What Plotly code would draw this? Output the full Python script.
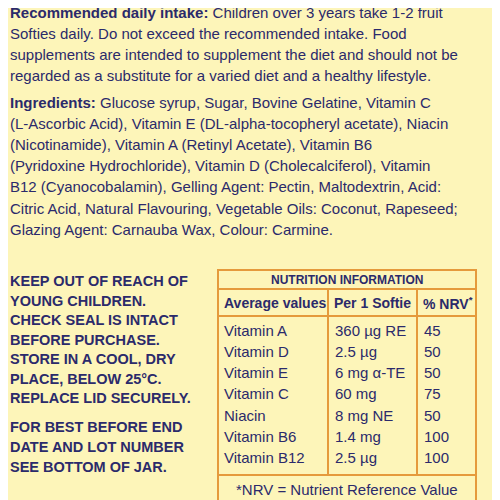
import plotly.graph_objects as go

BG = "#fdf5b9"
INK = "#2b2a6b"
ORANGE = "#e59a3c"
FONT = "Liberation Sans, Arial, sans-serif"

intake_lines = [
    "<b>Recommended daily intake:</b> Children over 3 years take 1-2 fruit",
    "Softies daily. Do not exceed the recommended intake. Food",
    "supplements are intended to supplement the diet and should not be",
    "regarded as a substitute for a varied diet and a healthy lifestyle.",
]
ingredient_lines = [
    "<b>Ingredients:</b> Glucose syrup, Sugar, Bovine Gelatine, Vitamin C",
    "(L-Ascorbic Acid), Vitamin E (DL-alpha-tocopheryl acetate), Niacin",
    "(Nicotinamide), Vitamin A (Retinyl Acetate), Vitamin B6",
    "(Pyridoxine Hydrochloride), Vitamin D (Cholecalciferol), Vitamin",
    "B12 (Cyanocobalamin), Gelling Agent: Pectin, Maltodextrin, Acid:",
    "Citric Acid, Natural Flavouring, Vegetable Oils: Coconut, Rapeseed;",
    "Glazing Agent: Carnauba Wax, Colour: Carmine.",
]
warning_lines = [
    "KEEP OUT OF REACH OF", "YOUNG CHILDREN.", "CHECK SEAL IS INTACT",
    "BEFORE PURCHASE.", "STORE IN A COOL, DRY", "PLACE, BELOW 25°C.",
    "REPLACE LID SECURELY.",
]
bestbefore_lines = ["FOR BEST BEFORE END", "DATE AND LOT NUMBER", "SEE BOTTOM OF JAR."]

col_headers = ["Average values", "Per 1 Softie", "% NRV<sup>*</sup>"]
nutrients = ["Vitamin A", "Vitamin D", "Vitamin E", "Vitamin C", "Niacin", "Vitamin B6", "Vitamin B12"]
amounts = ["360 µg RE", "2.5 µg", "6 mg α-TE", "60 mg", "8 mg NE", "1.4 mg", "2.5 µg"]
nrv = ["45", "50", "50", "75", "50", "100", "100"]

fig = go.Figure()
ann = []

def add(x, y, text, size=15, anchor="left"):
    ann.append(dict(x=x, y=y, text=text, xref="x", yref="y", showarrow=False,
                    xanchor=anchor, yanchor="middle",
                    font=dict(family=FONT, size=size, color=INK)))

LH = 21.2
for i, t in enumerate(intake_lines):
    add(8, 12 + i * LH, t)
for i, t in enumerate(ingredient_lines):
    add(8, 102 + i * LH, t)
for i, t in enumerate(warning_lines):
    add(8, 281 + i * 19.5, "<b>" + t + "</b>", size=14.5)
for i, t in enumerate(bestbefore_lines):
    add(8, 427 + i * 20, "<b>" + t + "</b>", size=14.5)

# table
tx0, tx1, ty0, ty1 = 218, 476, 270, 502
c1, c2 = 328, 417
shapes = [dict(type="rect", x0=tx0, x1=tx1, y0=ty0, y1=ty1, line=dict(color=ORANGE, width=2))]
for y in (289, 316, 475):
    shapes.append(dict(type="line", x0=tx0, x1=tx1, y0=y, y1=y, line=dict(color=ORANGE, width=2)))
for x in (c1, c2):
    shapes.append(dict(type="line", x0=x, x1=x, y0=289, y1=475, line=dict(color=ORANGE, width=2)))

add((tx0 + tx1) / 2, 280, "<b>NUTRITION INFORMATION</b>", size=12, anchor="center")
for x, h in zip((222, c1 + 4, c2 + 4), col_headers):
    add(x, 303, "<b>" + h + "</b>", size=14)
for i in range(len(nutrients)):
    y = 330 + i * 21.3
    add(222, y, nutrients[i], size=15)
    add(c1 + 5, y, amounts[i], size=15)
    add(c2 + 5, y, nrv[i], size=15)
add((tx0 + tx1) / 2, 489, "*NRV = Nutrient Reference Value", size=15, anchor="center")

fig.update_layout(
    width=500, height=500, margin=dict(l=0, r=0, t=0, b=0),
    paper_bgcolor=BG, plot_bgcolor=BG, annotations=ann, shapes=shapes,
    xaxis=dict(range=[8, 508], visible=False, fixedrange=True),
    yaxis=dict(range=[508, 8], visible=False, fixedrange=True),
    showlegend=False,
)
fig.write_html("out.html")
